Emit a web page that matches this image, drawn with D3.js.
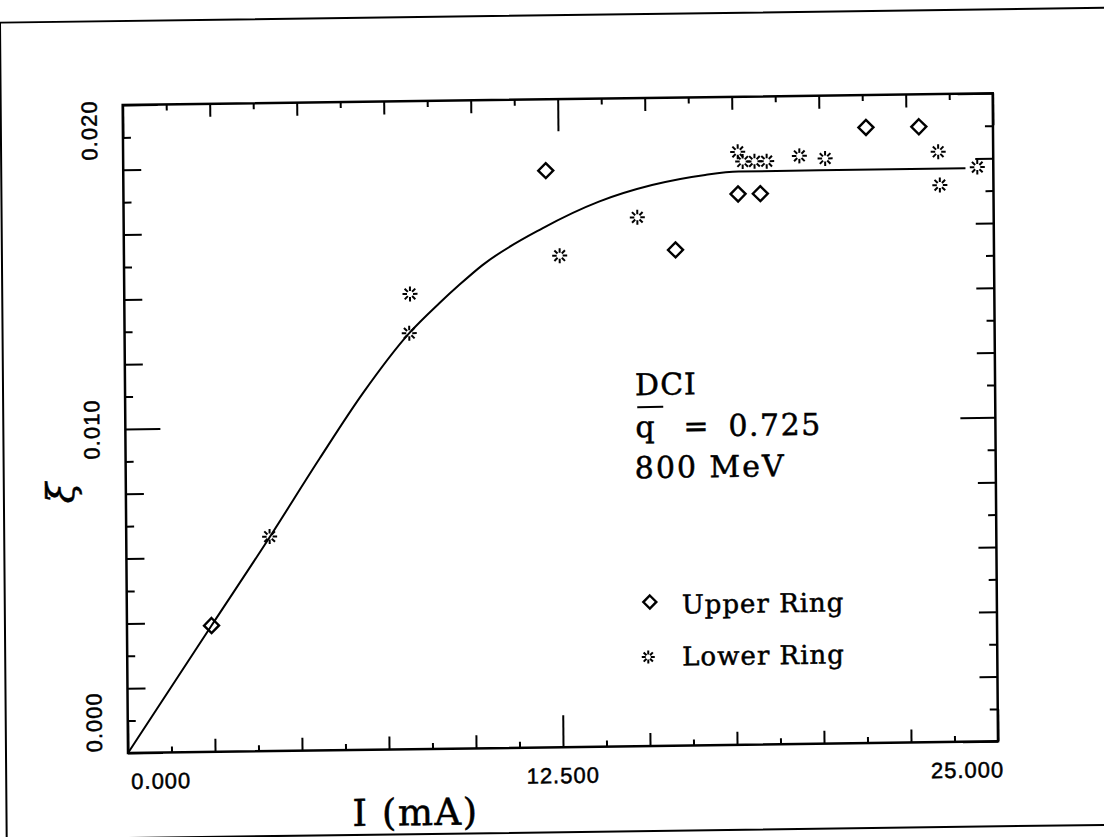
<!DOCTYPE html>
<html>
<head>
<meta charset="utf-8">
<script src="https://cdn.jsdelivr.net/npm/d3@7"></script>
<style>
  body { margin: 0; background: #fff; }
  svg { display: block; }
  text { fill: #000; stroke: #000; stroke-width: 0.5; }
</style>
</head>
<body>
<script>
(function(){

    const svgWidth = 1104, svgHeight = 837;

    // upper ring (diamonds)
    const upperI  = [2.43, 12.14, 15.85, 17.66, 18.30, 21.35, 22.87];
    const upperXi = [0.0039, 0.0178, 0.0153, 0.0170, 0.0170, 0.0190, 0.0190];

    // lower ring (bursts)
    const lowerI  = [4.12, 8.18, 8.21, 12.52, 14.76, 17.66, 17.80, 18.14, 18.49, 19.43, 20.17, 23.42, 23.46, 24.54];
    const lowerXi = [0.00662, 0.01284, 0.01405, 0.01517, 0.01632, 0.0183, 0.0180, 0.0180, 0.0180, 0.01815, 0.01806, 0.01822, 0.01719, 0.01773];

    // fitted curve
    const curveI  = [0, 2.43, 4.12, 5.57, 6.83, 8.18, 9.05, 9.63, 10.30, 12.03, 13.66, 15.19, 16.72, 17.68, 20.0, 24.2];
    const curveXi = [0, 0.0039, 0.0066, 0.0090, 0.0110, 0.01284, 0.01375, 0.01431, 0.01491, 0.01602, 0.01682, 0.01731, 0.0176, 0.01769, 0.0177, 0.0177];

    const xTickLabels = ["0.000", "12.500", "25.000"];
    const yTickLabels = ["0.000", "0.010", "0.020"];
    const infoLines = ["DCI", "q", "=", "0.725", "800 MeV"];
    const legendLabels = ["Upper Ring", "Lower Ring"];

    const margin = {left: 128, top: 105, right: 998, bottom: 753};

    const x = d3.scaleLinear().domain([0, 25]).range([margin.left, margin.right]);
    const y = d3.scaleLinear().domain([0, 0.020]).range([margin.bottom, margin.top]);

    const svg = d3.select("body").append("svg")
        .attr("width", svgWidth)
        .attr("height", svgHeight);

    // the scan is slightly skewed, so everything sits in one sheared group
    const g = svg.append("g")
        .attr("transform", "matrix(1,-0.0134,0.0082,1,-6.17,1.715)");

    // outer frame of the page
    g.append("rect")
        .attr("x", 6).attr("y", 21)
        .attr("width", 1120).attr("height", 817)
        .attr("fill", "none").attr("stroke", "#000").attr("stroke-width", 2);

    // ticks every 1.25 mA and every 0.001
    const xTicks = d3.range(0, 21).map(i => i * 1.25);
    const yTicks = d3.range(0, 21).map(i => i * 0.001);
    const xLen = i => (i % 10 === 0 ? 32 : (i % 2 === 0 ? 13 : 6));
    const yLen = i => (i % 10 === 0 ? 35 : (i % 2 === 0 ? 18 : 8));

    function ticks(axis, pos, lenFn, sign, horizontal) {
        const a = g.append("g")
            .attr("transform", horizontal ? `translate(0,${pos})` : `translate(${pos},0)`)
            .call(axis.tickSize(10).tickSizeOuter(0).tickFormat(""));
        a.select(".domain").remove();
        a.selectAll(".tick line")
            .attr("stroke-width", 2)
            .each(function(d, i){
                const l = d3.select(this);
                if (horizontal) l.attr("y2", sign * lenFn(i));
                else l.attr("x2", sign * lenFn(i));
            });
    }
    ticks(d3.axisTop(x).tickValues(xTicks), margin.bottom, xLen, -1, true);
    ticks(d3.axisBottom(x).tickValues(xTicks), margin.top, xLen, 1, true);
    ticks(d3.axisRight(y).tickValues(yTicks), margin.left, yLen, 1, false);
    ticks(d3.axisLeft(y).tickValues(yTicks), margin.right, yLen, -1, false);

    // plot box
    g.append("rect")
        .attr("x", margin.left).attr("y", margin.top)
        .attr("width", margin.right - margin.left)
        .attr("height", margin.bottom - margin.top)
        .attr("fill", "none").attr("stroke", "#000").attr("stroke-width", 2.5);

    // tick labels
    const xAnchor = ["start", "middle", "end"];
    const xOff = [3, 0, 6];
    [0, 12.5, 25].forEach((v, i) => {
        g.append("text")
            .attr("x", x(v) + xOff[i]).attr("y", 789)
            .attr("text-anchor", xAnchor[i])
            .attr("font-family", "Liberation Sans, Arial, sans-serif")
            .attr("font-size", 22)
            .attr("letter-spacing", 1)
            .text(xTickLabels[i]);
    });
    const yAnchor = ["start", "middle", "end"];
    const yShift = [1, 0, 5];
    [0, 0.010, 0.020].forEach((v, i) => {
        g.append("text")
            .attr("transform", `translate(102,${y(v)}) rotate(-90)`)
            .attr("x", yShift[i])
            .attr("text-anchor", yAnchor[i])
            .attr("font-family", "Liberation Sans, Arial, sans-serif")
            .attr("font-size", 22)
            .attr("letter-spacing", 1)
            .text(yTickLabels[i]);
    });

    // axis titles
    g.append("text")
        .attr("x", 352).attr("y", 829)
        .attr("font-family", "DejaVu Serif, serif")
        .attr("font-size", 37)
        .attr("letter-spacing", 1.5)
        .text("I (mA)");
    g.append("text")
        .attr("transform", "translate(76,492) rotate(-90)")
        .attr("text-anchor", "middle")
        .attr("font-family", "DejaVu Serif, serif")
        .attr("font-style", "italic")
        .attr("font-size", 38)
        .text("ξ");

    // fitted curve
    const line = d3.line()
        .x(d => x(d[0]))
        .y(d => y(d[1]))
        .curve(d3.curveMonotoneX);
    g.append("path")
        .datum(curveI.map((v, i) => [v, curveXi[i]]))
        .attr("d", line)
        .attr("fill", "none")
        .attr("stroke", "#000")
        .attr("stroke-width", 2);

    // markers
    const diamond = (sel, s) => sel.append("path")
        .attr("d", `M0,${-s}L${s},0L0,${s}L${-s},0Z`)
        .attr("fill", "none").attr("stroke", "#000").attr("stroke-width", 2.4);
    const burst = (sel, r0, r1) => {
        const rays = d3.range(8).map(k => k * Math.PI / 4);
        sel.selectAll("line.ray").data(rays).enter().append("line")
            .attr("class", "ray")
            .attr("x1", a => r0 * Math.cos(a)).attr("y1", a => r0 * Math.sin(a))
            .attr("x2", a => r1 * Math.cos(a)).attr("y2", a => r1 * Math.sin(a))
            .attr("stroke", "#000").attr("stroke-width", 2);
    };

    g.selectAll("g.up").data(upperI.map((v, i) => [v, upperXi[i]]))
        .enter().append("g").attr("class", "up")
        .attr("transform", d => `translate(${x(d[0])},${y(d[1])})`)
        .each(function(){ diamond(d3.select(this), 7.5); });

    g.selectAll("g.low").data(lowerI.map((v, i) => [v, lowerXi[i]]))
        .enter().append("g").attr("class", "low")
        .attr("transform", d => `translate(${x(d[0])},${y(d[1])})`)
        .each(function(){ burst(d3.select(this), 3, 7.5); });

    // info block
    const serif = "DejaVu Serif, serif";
    g.append("text").attr("x", 638).attr("y", 402)
        .attr("font-family", serif).attr("font-size", 30).attr("letter-spacing", 1)
        .text(infoLines[0]);
    g.append("line").attr("x1", 640).attr("x2", 666).attr("y1", 414).attr("y2", 414)
        .attr("stroke", "#000").attr("stroke-width", 2);
    g.append("text").attr("x", 638).attr("y", 444)
        .attr("font-family", serif).attr("font-size", 30).text(infoLines[1]);
    g.append("text").attr("x", 686).attr("y", 444)
        .attr("font-family", serif).attr("font-size", 30).text(infoLines[2]);
    g.append("text").attr("x", 731).attr("y", 444)
        .attr("font-family", serif).attr("font-size", 30).attr("letter-spacing", 1.5)
        .text(infoLines[3]);
    g.append("text").attr("x", 637).attr("y", 485)
        .attr("font-family", serif).attr("font-size", 30).attr("letter-spacing", 2)
        .attr("xml:space", "preserve")
        .text(infoLines[4]);

    // legend
    const lg1 = g.append("g").attr("transform", "translate(651,609)");
    diamond(lg1, 6.5);
    g.append("text").attr("x", 683).attr("y", 621)
        .attr("font-family", serif).attr("font-size", 26).attr("letter-spacing", 1)
        .text(legendLabels[0]);
    const lg2 = g.append("g").attr("transform", "translate(649,664)");
    burst(lg2, 2.5, 6.5);
    g.append("text").attr("x", 683).attr("y", 673)
        .attr("font-family", serif).attr("font-size", 26).attr("letter-spacing", 1)
        .text(legendLabels[1]);

})()
</script>
</body>
</html>
